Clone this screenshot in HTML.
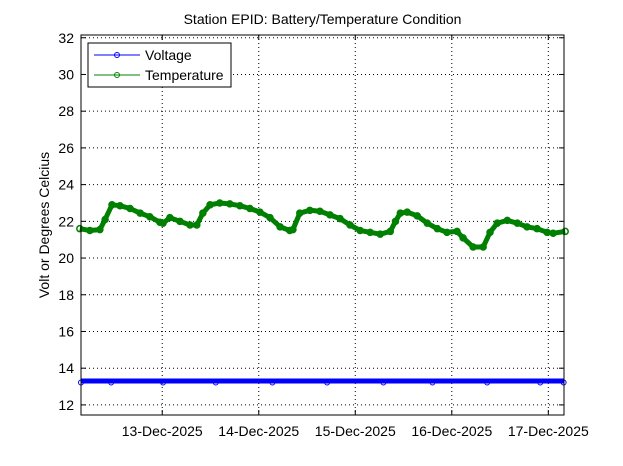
<!DOCTYPE html>
<html><head><meta charset="utf-8"><style>
body{margin:0;background:#fff;}
svg{display:block;font-family:"Liberation Sans",sans-serif;}
</style></head><body>
<svg id="chart" width="623" height="466">
<rect width="623" height="466" fill="#fff"/>
<text x="322.5" y="24" font-size="14" text-anchor="middle">Station EPID: Battery/Temperature Condition</text>
<text transform="translate(49,225) rotate(-90)" font-size="14" text-anchor="middle">Volt or Degrees Celcius</text>
<g id="grid"></g><g id="series"></g><g id="axes"></g>
<g>
<rect x="88" y="43" width="143" height="44" fill="#fff" stroke="#000" stroke-width="1"/>
<g>
<line x1="94" y1="55" x2="140" y2="55" stroke="#0000ff"/><circle cx="117" cy="55" r="2.5" fill="none" stroke="#0000ff"/>
<text x="145" y="60" font-size="14">Voltage</text></g>
<g>
<line x1="94" y1="75" x2="140" y2="75" stroke="#008000"/><circle cx="117" cy="75" r="2.5" fill="none" stroke="#008000"/>
<text x="145" y="80" font-size="14">Temperature</text></g>
</g>
</svg>
<script>
// hours relative to 13-Dec-2025 00:00
const tempHours=[-20.5,-18.0,-15.5,-14.2,-12.5,-10.5,-8.0,-5.5,-3.1,-0.6,0.2,1.9,4.4,6.9,8.6,10.1,11.9,14.3,16.8,19.3,21.8,24.3,26.8,29.3,31.7,32.5,34.2,36.7,39.2,41.7,44.2,46.7,49.2,51.7,54.2,56.7,58.0,59.2,60.9,63.4,65.9,68.4,70.8,73.3,74.8,77.3,79.8,81.5,83.3,85.8,88.3,90.7,93.2,95.7,97.2,100.2];
const tempValues=[21.6,21.5,21.55,22.1,22.9,22.85,22.7,22.45,22.25,21.95,21.9,22.2,22.0,21.8,21.8,22.45,22.9,23.0,22.95,22.85,22.7,22.5,22.2,21.7,21.5,21.55,22.45,22.6,22.55,22.35,22.15,21.8,21.5,21.4,21.3,21.45,22.0,22.45,22.5,22.3,21.9,21.6,21.4,21.45,21.1,20.6,20.6,21.4,21.9,22.05,21.9,21.7,21.6,21.4,21.35,21.45];
const voltHours=[-20.2,-12.7,0.2,13.3,27.4,41.0,55.0,67.2,80.8,94.0,99.8];
const voltValues=[13.3,13.3,13.3,13.3,13.3,13.3,13.3,13.3,13.3,13.3,13.3];
const yTicks=[12,14,16,18,20,22,24,26,28,30,32];
const xTicks=[0,24,48,72,96];
const xTickLabels=["13-Dec-2025","14-Dec-2025","15-Dec-2025","16-Dec-2025","17-Dec-2025"];
const L=81,R=564,T=35,B=415;
const xMin=-20.2,xMax=99.9,yMin=11.45,yMax=32.15;
const X=h=>L+(h-xMin)/(xMax-xMin)*(R-L);
const Y=v=>B-(v-yMin)/(yMax-yMin)*(B-T);
const NS="http://www.w3.org/2000/svg";
function mk(tag,attrs,parent){const e=document.createElementNS(NS,tag);for(const k in attrs)e.setAttribute(k,attrs[k]);parent.appendChild(e);return e;}
const grid=document.getElementById('grid'),axes=document.getElementById('axes'),series=document.getElementById('series');
yTicks.forEach(v=>{const y=Y(v);
 const g=mk('line',{x1:L,x2:R,y1:y,y2:y,stroke:'#000','stroke-dasharray':'1,3'},grid);
 
 
 mk('line',{x1:L,x2:L+5,y1:y,y2:y,stroke:'#000'},axes);
 mk('line',{x1:R,x2:R-5,y1:y,y2:y,stroke:'#000'},axes);
 const t=mk('text',{x:L-7,y:y+5,'font-size':14,'text-anchor':'end'},axes);t.textContent=v;
 
 
});
xTicks.forEach((h,i)=>{const x=X(h);
 const g=mk('line',{x1:x,x2:x,y1:T,y2:B,stroke:'#000','stroke-dasharray':'1,3'},grid);
 
 
 mk('line',{x1:x,x2:x,y1:B,y2:B-5,stroke:'#000'},axes);
 mk('line',{x1:x,x2:x,y1:T,y2:T+5,stroke:'#000'},axes);
 const t=mk('text',{x:x,y:436,'font-size':14,'text-anchor':'middle'},axes);t.textContent=xTickLabels[i];
 
 
});
const box=mk('rect',{x:L,y:T,width:R-L,height:B-T,fill:'none',stroke:'#000'},axes);


// temperature
const tp=tempHours.map((h,i)=>X(h).toFixed(1)+','+Y(tempValues[i]).toFixed(1)).join(' ');
const tl=mk('polyline',{points:tp,fill:'none',stroke:'#008000','stroke-width':5,'stroke-linejoin':'round'},series);


tempHours.forEach((h,i)=>{const c=mk('circle',{cx:X(h),cy:Y(tempValues[i]),r:3,fill:'none',stroke:'#008000','stroke-width':1.5},series);
 
 });
// voltage
const vp=voltHours.map((h,i)=>X(h).toFixed(1)+','+Y(voltValues[i]).toFixed(1)).join(' ');
const vl=mk('polyline',{points:vp,fill:'none',stroke:'#0000ff','stroke-width':5},series);


voltHours.forEach((h,i)=>{const c=mk('circle',{cx:X(h),cy:Y(voltValues[i])+1.5,r:2.5,fill:'none',stroke:'#0000ff'},series);
 
 });
</script>
</body></html>
